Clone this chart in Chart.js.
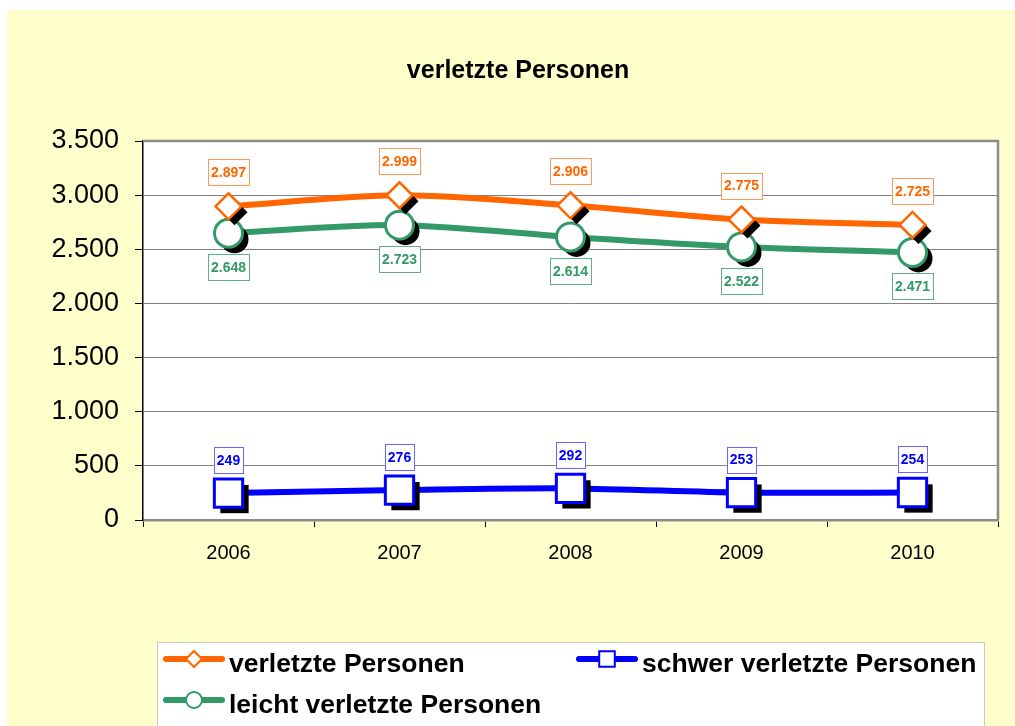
<!DOCTYPE html>
<html>
<head>
<meta charset="utf-8">
<script src="https://cdn.jsdelivr.net/npm/chart.js@4/dist/chart.umd.min.js"></script>
<style>
  html, body { margin: 0; padding: 0; background: #fff; }
  #wrap { width: 1015px; height: 726px; }
</style>
</head>
<body>
<div id="wrap"><canvas id="chart" width="1015" height="726"></canvas></div>
<script>
// Daten
const years = ['2006', '2007', '2008', '2009', '2010'];
const verletzt = [2897, 2999, 2906, 2775, 2725];
const schwer = [249, 276, 292, 253, 254];
const leicht = [2648, 2723, 2614, 2522, 2471];
const yTickLabels = ['0', '500', '1.000', '1.500', '2.000', '2.500', '3.000', '3.500'];
const seriesNames = ['verletzte Personen', 'schwer verletzte Personen', 'leicht verletzte Personen'];

const colors = {
    orange: '#FF6600',
    blue: '#0000FF',
    green: '#339966',
    yellow: '#FFFFCC'
};

// Markerformen je Reihe
const markers = [
    { style: 'rectRot', radius: 13, border: 2.5 },
    { style: 'rect', radius: 20, border: 3 },
    { style: 'circle', radius: 14, border: 3 }
];

function fmt(v) {
    return String(v).replace(/\B(?=(\d{3})+(?!\d))/g, '.');
}

// Hintergrund, Titel, Rahmen
const backgroundPlugin = {
    id: 'bg',
    beforeDraw(chart) {
        const ctx = chart.ctx, a = chart.chartArea;
        ctx.save();
        ctx.fillStyle = '#fff';
        ctx.fillRect(0, 0, chart.width, chart.height);
        ctx.fillStyle = colors.yellow;
        ctx.fillRect(7, 10, chart.width - 7, chart.height - 10);
        ctx.fillStyle = '#fff';
        ctx.fillRect(a.left, a.top, a.right - a.left, a.bottom - a.top);
        ctx.fillStyle = '#000';
        ctx.font = 'bold 25px Arial, "Liberation Sans"';
        ctx.textAlign = 'center';
        ctx.textBaseline = 'alphabetic';
        ctx.fillText('verletzte Personen', 518, 78);
        ctx.restore();
    },
    beforeDatasetsDraw(chart) {
        const ctx = chart.ctx, a = chart.chartArea;
        ctx.save();
        ctx.strokeStyle = '#8c8c8c';
        ctx.lineWidth = 2.5;
        ctx.beginPath();
        ctx.moveTo(a.left, a.top);
        ctx.lineTo(a.right, a.top);
        ctx.lineTo(a.right, a.bottom);
        ctx.stroke();
        ctx.restore();
    }
};

// Schatten, Marker, Beschriftungen
const labelOffsets = [-34, -33, 34];
const labelBorders = ['#FF9955', '#6666FF', '#5FB088'];

const markerPlugin = {
    id: 'markers',
    afterDatasetsDraw(chart) {
        const ctx = chart.ctx;
        ctx.save();
        [1, 2, 0].forEach(i => {
            const meta = chart.getDatasetMeta(i);
            const ds = chart.data.datasets[i];
            const m = markers[i];
            meta.data.forEach(p => {
                ctx.fillStyle = '#000';
                Chart.helpers.drawPoint(ctx, {
                    pointStyle: m.style, radius: m.radius, rotation: 0, borderWidth: 0
                }, p.x + 6, p.y + 6);
            });
            meta.data.forEach(p => {
                ctx.fillStyle = '#fff';
                ctx.strokeStyle = ds.borderColor;
                ctx.lineWidth = m.border;
                Chart.helpers.drawPoint(ctx, {
                    pointStyle: m.style, radius: m.radius, rotation: 0, borderWidth: m.border
                }, p.x, p.y);
            });
        });
        ctx.font = 'bold 14px Arial, "Liberation Sans"';
        ctx.textAlign = 'center';
        ctx.textBaseline = 'middle';
        chart.data.datasets.forEach((ds, i) => {
            const meta = chart.getDatasetMeta(i);
            meta.data.forEach((p, j) => {
                const txt = fmt(ds.data[j]);
                const w = ctx.measureText(txt).width + 6;
                const h = 26;
                const cy = p.y + labelOffsets[i];
                ctx.fillStyle = '#fff';
                ctx.fillRect(p.x - w / 2, cy - h / 2, w, h);
                ctx.strokeStyle = labelBorders[i];
                ctx.lineWidth = 1;
                ctx.strokeRect(Math.round(p.x - w / 2) + 0.5, Math.round(cy - h / 2) + 0.5, Math.round(w), h);
                ctx.fillStyle = ds.borderColor;
                ctx.fillText(txt, p.x, cy + 1);
            });
        });
        ctx.restore();
    }
};

// Legende
const legendPos = [
    { x: 163, y: 659 },
    { x: 576, y: 659 },
    { x: 163, y: 700 }
];
const legendPlugin = {
    id: 'legendBox',
    afterDraw(chart) {
        const ctx = chart.ctx;
        ctx.save();
        ctx.fillStyle = '#fff';
        ctx.fillRect(157, 642, 827, 90);
        ctx.strokeStyle = '#c8c8c8';
        ctx.lineWidth = 1;
        ctx.strokeRect(157.5, 642.5, 827, 90);
        chart.data.datasets.forEach((ds, i) => {
            const pos = legendPos[i];
            const m = markers[i];
            ctx.strokeStyle = ds.borderColor;
            ctx.lineWidth = 6;
            ctx.lineCap = 'round';
            ctx.beginPath();
            ctx.moveTo(pos.x + 3, pos.y);
            ctx.lineTo(pos.x + 59, pos.y);
            ctx.stroke();
            ctx.fillStyle = '#fff';
            ctx.lineWidth = 2;
            Chart.helpers.drawPoint(ctx, {
                pointStyle: m.style, radius: m.style === 'rect' ? 11 : 8, rotation: 0, borderWidth: 2
            }, pos.x + 31, pos.y);
            ctx.fillStyle = '#000';
            ctx.font = 'bold 26.5px Arial, "Liberation Sans"';
            ctx.textAlign = 'left';
            ctx.textBaseline = 'alphabetic';
            ctx.fillText(seriesNames[i], pos.x + 66, pos.y + 13);
        });
        ctx.restore();
    }
};

new Chart(document.getElementById('chart'), {
    type: 'line',
    data: {
        labels: years,
        datasets: [{
            label: seriesNames[0],
            data: verletzt,
            borderColor: colors.orange
        }, {
            label: seriesNames[1],
            data: schwer,
            borderColor: colors.blue
        }, {
            label: seriesNames[2],
            data: leicht,
            borderColor: colors.green
        }].map(ds => Object.assign(ds, {
            borderWidth: 6,
            tension: 0.3,
            // Marker werden im Plugin mit Schatten gezeichnet
            pointRadius: 0,
            pointHoverRadius: 0
        }))
    },
    options: {
        responsive: false,
        animation: false,
        layout: { padding: { top: 141, right: 17, bottom: 0, left: 0 } },
        plugins: {
            legend: { display: false },
            tooltip: { enabled: false }
        },
        scales: {
            x: {
                offset: true,
                grid: {
                    offset: true,
                    drawOnChartArea: false,
                    tickLength: 7,
                    tickColor: '#000'
                },
                border: { color: '#8c8c8c', width: 2.5 },
                ticks: {
                    color: '#000',
                    font: { family: 'Arial, "Liberation Sans"', size: 20 },
                    padding: 14
                },
                afterFit(scale) { scale.height = 206; }
            },
            y: {
                min: 0,
                max: 3500,
                ticks: {
                    stepSize: 500,
                    color: '#000',
                    font: { family: 'Arial, "Liberation Sans"', size: 27 },
                    padding: 16,
                    callback: (v, i) => yTickLabels[i]
                },
                grid: { color: '#808080', lineWidth: 1, tickLength: 8, tickColor: '#000' },
                border: { color: '#000', width: 1.5 },
                afterFit(scale) { scale.width = 143; }
            }
        }
    },
    plugins: [backgroundPlugin, markerPlugin, legendPlugin]
});
</script>
</body>
</html>
